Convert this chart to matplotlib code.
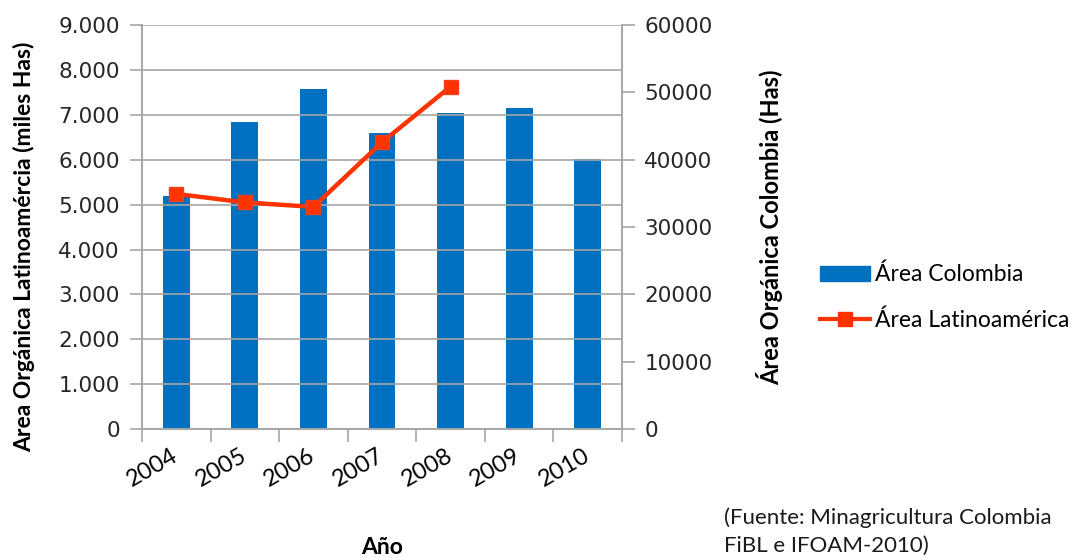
import matplotlib
matplotlib.use("Agg")
import matplotlib.pyplot as plt
import matplotlib.transforms as mtransforms
from matplotlib.patches import Patch
from matplotlib.lines import Line2D
from matplotlib.ticker import FuncFormatter

plt.rcParams['font.family'] = ['Lato', 'DejaVu Sans']

# data
years = ['2004', '2005', '2006', '2007', '2008', '2009', '2010']
area_colombia = [34560, 45600, 50500, 44050, 46900, 47650, 40100]      # Has
area_latam = [5240, 5050, 4950, 6390, 7630]                            # miles Has
latam_years = years[:5]

bar_color = '#0070C0'
line_color = '#FF3300'
grid_color = '#A6A6A6'
text_color = '#262626'

fig = plt.figure(figsize=(10.78, 5.58), dpi=100)
ax = fig.add_axes([0.1317, 0.231, 0.4453, 0.724])
ax2 = ax.twinx()

x = list(range(len(years)))
# bars: Colombia on the right axis (Has)
ax2.bar(x, area_colombia, width=0.39, color=bar_color, zorder=2)
ax2.set_ylim(0, 60000)
ax2.set_yticks(range(0, 60001, 10000))

# line: Latinoamérica on the left axis (miles Has)
ax.set_ylim(0, 9000)
ax.set_yticks(range(0, 9001, 1000))
ax.yaxis.set_major_formatter(FuncFormatter(lambda v, p: f"{int(v):,}".replace(',', '.')))
ax.grid(axis='y', color=grid_color, linewidth=1.2)
ax.set_axisbelow(True)

# left axis (line) drawn above right axis (bars)
ax.set_zorder(ax2.get_zorder() + 1)
ax.patch.set_visible(False)
lx = [years.index(y) for y in latam_years]
ax.plot(lx, area_latam, color=line_color, linewidth=3.2, marker='s',
        markersize=10, markerfacecolor=line_color, markeredgecolor='#E8431A', zorder=3)

ax.set_xlim(-0.5, len(years) - 0.5)
ax.set_xticks([i - 0.5 for i in range(len(years) + 1)])
ax.set_xticklabels([])
ax.set_xticks(x, minor=True)
ax.set_xticklabels(years, minor=True, rotation=30, ha='right', va='center',
                   rotation_mode='anchor', fontsize=17, color='black')
shift = mtransforms.ScaledTranslation(10 / 100, 0, fig.dpi_scale_trans)
for lab in ax.get_xticklabels(minor=True):
    lab.set_transform(lab.get_transform() + shift)
ax.tick_params(axis='x', which='minor', length=0, pad=18)
ax.tick_params(axis='x', which='major', length=9, color=grid_color, width=1.2)
for a in (ax, ax2):
    a.tick_params(axis='y', length=9, color=grid_color, width=1.2, labelsize=15.5,
                  labelcolor=text_color, pad=7)
    for lab in a.get_yticklabels():
        lab.set_family('DejaVu Sans')
    for s in a.spines.values():
        s.set_color(grid_color)
        s.set_linewidth(1.2)
    a.spines['top'].set_visible(False)

ax.set_ylabel('Area Orgánica Latinoamércia (miles Has)', fontsize=16.5, fontweight='bold')
ax.yaxis.set_label_coords(-0.223, 0.45)
ax2.set_ylabel('Área Orgánica Colombia (Has)', fontsize=17, fontweight='bold')
ax2.yaxis.set_label_coords(1.28, 0.5)
fig.text(0.354, 0.018, 'Año', fontsize=16.5, fontweight='bold', ha='center', va='center')

handles = [Patch(color=bar_color),
           Line2D([], [], color=line_color, linewidth=3, marker='s', markersize=10)]
fig.legend(handles, ['Área Colombia', 'Área Latinoamérica'], loc='center left',
           bbox_to_anchor=(0.752, 0.467), frameon=False, fontsize=16.5,
           handlelength=2.2, handleheight=0.6, handletextpad=0.2, labelspacing=1.05,
           borderaxespad=0)

fig.text(0.672, 0.047, '(Fuente: Minagricultura Colombia\nFiBL e IFOAM-2010)',
         fontsize=16, va='center', ha='left', linespacing=1.5, color='#1a1a1a')

fig.savefig('out.png', dpi=100)
